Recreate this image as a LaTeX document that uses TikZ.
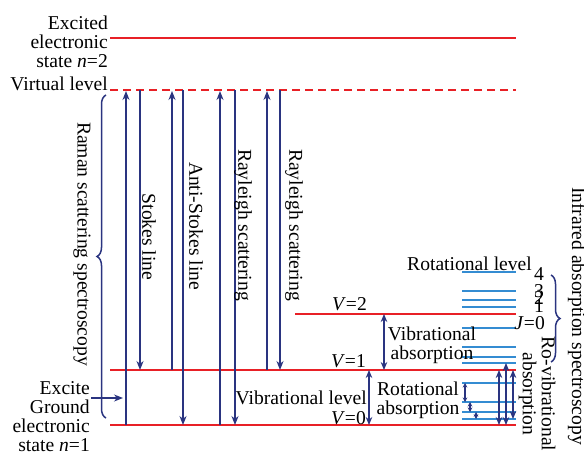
\documentclass[tikz,border=0pt]{standalone}
\usepackage{fontspec}
\setmainfont{Liberation Serif}
\usetikzlibrary{arrows.meta,decorations.pathreplacing}
\definecolor{lred}{RGB}{232,32,38}
\definecolor{navy}{RGB}{42,52,128}
\definecolor{lblue}{RGB}{52,140,210}
\tikzset{
  lvl/.style={line width=2.9pt, draw=lred},
  virt/.style={line width=2.9pt, draw=lred, dash pattern=on 8pt off 5pt},
  rot/.style={line width=1.5pt, draw=lblue},
  arr/.style={line width=1.4pt, draw=navy, -{Stealth[length=9pt,width=7pt]}},
  dbl/.style={line width=1.4pt, draw=navy, {Stealth[length=8pt,width=6.5pt]}-{Stealth[length=8pt,width=6.5pt]}},
  sdbl/.style={line width=1.1pt, draw=navy, {Stealth[length=4.5pt,width=4.5pt]}-{Stealth[length=4.5pt,width=4.5pt]}},
  txt/.style={inner sep=0pt, font=\fontsize{19.6}{19}\selectfont},
  vtxt/.style={txt, rotate=-90},
  bracestyle/.style={decorate, decoration={brace, amplitude=9pt}, line width=1.5pt, draw=navy}
}
\begin{document}
\begin{tikzpicture}[x=1pt,y=-1pt]
\useasboundingbox[fill=white] (0,0) rectangle (584,452);
% red levels
\coordinate (ex-l) at (110,38);  \coordinate (ex-r) at (516,38);
\coordinate (vi-l) at (110,90);  \coordinate (vi-r) at (516,90);
\coordinate (v2-l) at (295,314); \coordinate (v2-r) at (516,314);
\coordinate (v1-l) at (110,370); \coordinate (v1-r) at (516,370);
\coordinate (v0-l) at (110,425); \coordinate (v0-r) at (516,425);
\draw[lvl] (ex-l) -- (ex-r);
\draw[virt] (vi-l) -- (vi-r);
% rotational levels
\foreach \i/\y in {1/272,2/291,3/300,4/307,5/328,6/347,7/357,8/363,9/383,10/402,11/412,12/419}{
  \coordinate (r\i-l) at (462,\y); \coordinate (r\i-r) at (516,\y);
  \draw[rot] (r\i-l) -- (r\i-r);
}
\draw[lvl] (v2-l) -- (v2-r);
\draw[lvl] (v1-l) -- (v1-r);
\draw[lvl] (v0-l) -- (v0-r);
% scattering arrows
\foreach \n/\x/\ya/\yb in {a1/126/425/91, a3/172/370/91, a5/220/425/91, a7/267/370/91,
                          a2/140/90/370, a4/183/90/425, a6/235/90/425, a8/280/90/370}{
  \coordinate (\n-s) at (\x,\ya); \coordinate (\n-e) at (\x,\yb);
  \draw[arr] (\n-s) -- (\n-e);
}
% excite arrow
\coordinate (exc-s) at (91,398); \coordinate (exc-e) at (123,398);
\draw[arr] (exc-s) -- (exc-e);
% absorption arrows
\foreach \n/\x/\ya/\yb/\st in {b1/384/314/370/dbl, b2/369/370/425/dbl,
   c1/465/383/402/sdbl, c2/470/402/412/sdbl, c3/476/412/419/sdbl,
   d1/499/425/370/dbl, d2/506/425/363/dbl, d3/513/419/370/dbl}{
  \coordinate (\n-s) at (\x,\ya); \coordinate (\n-e) at (\x,\yb);
  \draw[\st] (\n-s) -- (\n-e);
}
% braces
\coordinate (br1-s) at (106,418); \coordinate (br1-e) at (106,95);
\draw[bracestyle] (br1-s) -- (br1-e);
\coordinate (br2-s) at (551,275); \coordinate (br2-e) at (551,362);
\draw[bracestyle] (br2-s) -- (br2-e);
% texts
\node[txt, align=right, anchor=east] (t-ex) at (108,42) {Excited\\electronic\\state \textit{n}=2};
\node[txt, anchor=base east] (t-vi) at (108,91) {Virtual level};
\node[txt, align=right, anchor=east] (t-gr) at (90,417) {Excite\\Ground\\electronic\\state \textit{n}=1};
\node[vtxt] (t-raman) at (82,244) {Raman scattering spectroscopy};
\node[vtxt] (t-stokes) at (149,237) {Stokes line};
\node[vtxt] (t-anti) at (196,226) {Anti-Stokes line};
\node[vtxt] (t-ray1) at (243,225) {Rayleigh scattering};
\node[vtxt] (t-ray2) at (294,225) {Rayleigh scattering};
\node[txt, anchor=base west] (t-rotl) at (407,270) {Rotational level};
\node[txt, anchor=base] (t-j4) at (539,280) {4};
\node[txt, anchor=base] (t-j3) at (539,297) {3};
\node[txt, anchor=base] (t-j2) at (539,304) {2};
\node[txt, anchor=base] (t-j1) at (539,312) {1};
\node[txt, anchor=base east] (t-j0) at (545,329) {\textit{J}=0};
\node[txt, anchor=base east] (t-v2) at (367,310) {\textit{V}=2};
\node[txt, anchor=base east] (t-v1) at (366,367) {\textit{V}=1};
\node[txt, anchor=base east] (t-vl) at (367,404) {Vibrational level};
\node[txt, anchor=base east] (t-v0) at (366,424) {\textit{V}=0};
\node[txt, align=center] (t-va) at (432,345) {Vibrational\\absorption};
\node[txt, align=center] (t-ra) at (418,400) {Rotational\\absorption};
\node[vtxt, align=center] (t-rv) at (537,394) {Ro-vibrational\\absorption};
\node[vtxt] (t-ir) at (577,316) {Infrared absorption spectroscopy};
\end{tikzpicture}
\end{document}
